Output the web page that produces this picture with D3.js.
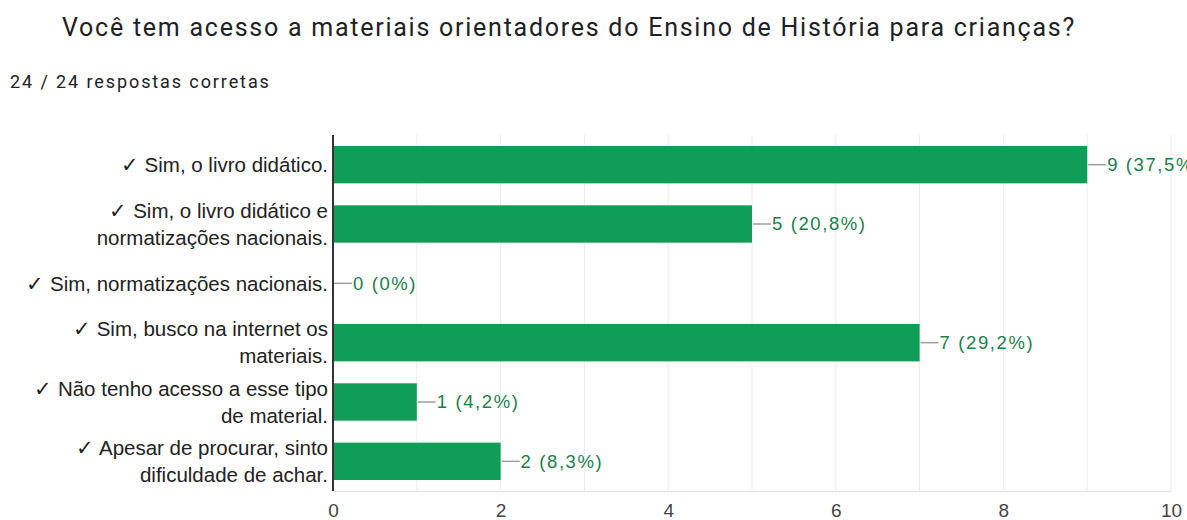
<!DOCTYPE html>
<html>
<head>
<meta charset="utf-8">
<script src="https://cdn.jsdelivr.net/npm/d3@7"></script>
<style>
  body { margin: 0; background: #fff; }
  svg { display: block; }
</style>
</head>
<body>
<svg id="chart"></svg>
<script>
var title = "Você tem acesso a materiais orientadores do Ensino de História para crianças?";
var subtitle = "24 / 24 respostas corretas";
var categories = [
  "✓ Sim, o livro didático.",
  "✓ Sim, o livro didático e\nnormatizações nacionais.",
  "✓ Sim, normatizações nacionais.",
  "✓ Sim, busco na internet os\nmateriais.",
  "✓ Não tenho acesso a esse tipo\nde material.",
  "✓ Apesar de procurar, sinto\ndificuldade de achar."
];
var counts = [9, 5, 0, 7, 1, 2];
var percents = ["37,5%", "20,8%", "0%", "29,2%", "4,2%", "8,3%"];
var xTicks = [0, 2, 4, 6, 8, 10];

var W = 1187, H = 520;
var margin = { top: 135, right: 16, bottom: 29, left: 333 },
  width = W - margin.left - margin.right,
  height = H - margin.top - margin.bottom;

var svg = d3.select("#chart").attr("width", W).attr("height", H);

svg.append("text")
  .attr("x", 62).attr("y", 36)
  .style("font-family", "Roboto, sans-serif")
  .style("font-size", "25px")
  .style("letter-spacing", "1.75px")
  .style("fill", "#202124")
  .text(title);

svg.append("text")
  .attr("x", 10).attr("y", 88)
  .style("font-family", "Roboto, sans-serif")
  .style("font-size", "18px")
  .style("letter-spacing", "1.9px")
  .style("fill", "#202124")
  .text(subtitle);

var g = svg.append("g")
  .attr("transform", "translate(" + margin.left + "," + margin.top + ")");

var x = d3.scaleLinear().domain([0, 10]).range([0, width]);
var y = d3.scaleBand().domain(categories).range([0, height]).paddingInner(0.37).paddingOuter(0.185);

// gridlines every unit
g.selectAll(".grid")
  .data(d3.range(1, 11))
  .enter().append("line")
  .attr("x1", function(d) { return x(d); })
  .attr("x2", function(d) { return x(d); })
  .attr("y1", 0).attr("y2", height)
  .style("stroke", "#ebebeb")
  .style("stroke-width", 1);

g.append("line")
  .attr("x1", 0).attr("x2", width)
  .attr("y1", height + 0.5).attr("y2", height + 0.5)
  .style("stroke", "#e0e0e0");

g.selectAll(".bar")
  .data(categories)
  .enter().append("rect")
  .attr("x", x(0))
  .attr("y", function(d) { return y(d); })
  .attr("width", function(d, i) { return x(counts[i]) - x(0); })
  .attr("height", y.bandwidth())
  .style("fill", "#0f9d58");

// value labels with leader lines
var lab = g.selectAll(".lab")
  .data(categories)
  .enter().append("g")
  .attr("transform", function(d, i) {
    return "translate(" + x(counts[i]) + "," + (y(d) + y.bandwidth() / 2) + ")";
  });
lab.append("line")
  .attr("x1", 1).attr("x2", 19)
  .attr("y1", 0).attr("y2", 0)
  .style("stroke", "#9e9e9e")
  .style("stroke-width", 1.5);
lab.append("text")
  .attr("x", 20).attr("dy", "0.35em")
  .style("font-family", "'Liberation Sans', Arial, sans-serif")
  .style("font-size", "18.5px")
  .style("letter-spacing", "1.6px")
  .style("fill", "#1a7f4b")
  .text(function(d, i) { return counts[i] + " (" + percents[i] + ")"; });

// y axis line
g.append("line")
  .attr("x1", 0).attr("x2", 0)
  .attr("y1", 0).attr("y2", height)
  .style("stroke", "#333")
  .style("stroke-width", 2);

// category labels
g.selectAll(".cat")
  .data(categories)
  .enter().append("text")
  .attr("x", -5)
  .attr("y", function(d) { return y(d) + y.bandwidth() / 2; })
  .style("font-family", "'Liberation Sans', Arial, sans-serif")
  .style("font-size", "20.5px")
  .style("fill", "#222")
  .style("text-anchor", "end")
  .each(function(d) {
    var lines = d.split("\n");
    var t = d3.select(this);
    lines.forEach(function(l, k) {
      t.append("tspan")
        .attr("x", -5)
        .attr("y", y(d) + y.bandwidth() / 2 + (k - (lines.length - 1) / 2) * 27)
        .attr("dy", "0.35em")
        .text(l);
    });
  });

// x tick labels
var xAxis = d3.axisBottom(x).tickValues(xTicks).tickSize(0).tickPadding(13);
var ax = g.append("g")
  .attr("transform", "translate(0," + height + ")")
  .call(xAxis);
ax.select(".domain").remove();
ax.selectAll("text")
  .style("font-family", "'Liberation Sans', Arial, sans-serif")
  .style("font-size", "19px")
  .style("fill", "#444");
</script>
</body>
</html>
